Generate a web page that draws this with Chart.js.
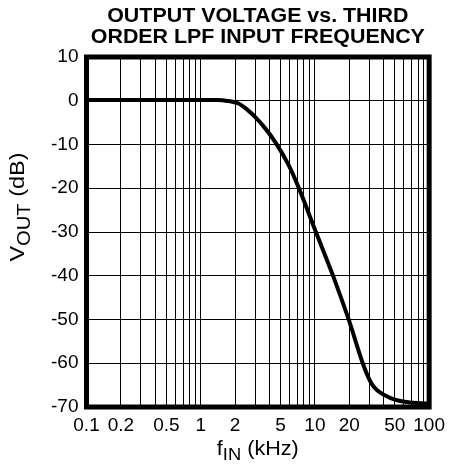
<!DOCTYPE html>
<html><head><meta charset="utf-8">
<script src="https://cdn.jsdelivr.net/npm/chart.js@4/dist/chart.umd.min.js"></script>
<style>html,body{margin:0;padding:0;background:#fff}</style>
</head><body>
<canvas id="c" width="452" height="466"></canvas>
<script>
// ---- data ----
const titleLines = ['OUTPUT VOLTAGE vs. THIRD', 'ORDER LPF INPUT FREQUENCY'];
const freqKHz = [0.1, 0.3, 0.6, 1.0, 1.4, 1.66, 2.16, 2.6, 3.02, 3.64, 4.51, 5.89, 7.19, 10.16, 14.5, 19.8, 26.9, 31.2, 35.5, 40.8, 50.0, 60.8, 80.0, 100.0];
const voutDb  = [0.2, 0.2, 0.2, 0.2, 0.15, 0.0, -0.7, -2.2, -3.8, -6.2, -9.5, -14.7, -19.8, -29.9, -40.2, -50.1, -60.8, -64.6, -66.3, -67.3, -68.3, -68.8, -69.1, -69.2];
const xTickLabelValues = [0.1, 0.2, 0.5, 1, 2, 5, 10, 20, 50, 100];
const xTickLabels = ['0.1', '0.2', '0.5', '1', '2', '5', '10', '20', '50', '100'];
const yTickValues = [10, 0, -10, -20, -30, -40, -50, -60, -70];
const xAxisTitle = ['f', 'IN', ' (kHz)'];
const yAxisTitle = ['V', 'OUT', ' (dB)'];

// gridline positions: 1..9 in every decade
const xGridValues = [];
[0.1, 1, 10].forEach(d => { for (let m = 1; m <= 9; m++) xGridValues.push(+(d * m).toPrecision(3)); });
xGridValues.push(100);

const FONT = '"Liberation Sans", Arial, Helvetica, sans-serif';
Chart.defaults.font.family = FONT;
Chart.defaults.color = '#000';

const decor = {
  id: 'decor',
  afterDraw(chart) {
    const {ctx, chartArea: a} = chart;
    ctx.save();
    ctx.strokeStyle = '#000';
    ctx.lineWidth = 5;
    ctx.strokeRect(a.left, a.top, a.right - a.left, a.bottom - a.top);
    ctx.fillStyle = '#000';
    const cx = (a.left + a.right) / 2;
    // title (slightly wide lettering, as in the reference)
    ctx.font = 'bold 20px ' + FONT;
    ctx.textAlign = 'center';
    ctx.textBaseline = 'alphabetic';
    [[titleLines[0], 22], [titleLines[1], 43]].forEach(([t, y]) => {
      ctx.save(); ctx.translate(cx, y); ctx.scale(1.07, 1); ctx.fillText(t, 0, 0); ctx.restore();
    });
    // text with subscript, centred on (x, y), stretched horizontally by k
    function drawSub(parts, x, y, bigPx, smallPx, k, drop) {
      const big = bigPx + 'px ' + FONT, small = smallPx + 'px ' + FONT;
      ctx.font = big; const w0 = ctx.measureText(parts[0]).width;
      ctx.font = small; const w1 = ctx.measureText(parts[1]).width;
      ctx.font = big; const w2 = ctx.measureText(parts[2]).width;
      ctx.save();
      ctx.translate(x, y); ctx.scale(k, 1);
      let sx = -(w0 + w1 + w2) / 2;
      ctx.textAlign = 'left';
      ctx.font = big; ctx.fillText(parts[0], sx, 0); sx += w0;
      ctx.font = small; ctx.fillText(parts[1], sx, drop); sx += w1;
      ctx.font = big; ctx.fillText(parts[2], sx, 0);
      ctx.restore();
    }
    drawSub(xAxisTitle, cx, 455, 20, 17, 1.08, 5);
    ctx.save();
    ctx.translate(24, 207);
    ctx.rotate(-Math.PI / 2);
    drawSub(yAxisTitle, 0, 0, 21, 18, 1.12, 6);
    ctx.restore();
    ctx.restore();
  }
};

new Chart(document.getElementById('c'), {
  type: 'line',
  data: {
    datasets: [{
      data: freqKHz.map((f, i) => ({x: f, y: voutDb[i]})),
      borderColor: '#000',
      borderWidth: 4,
      pointRadius: 0,
      cubicInterpolationMode: 'monotone',
      fill: false
    }]
  },
  options: {
    responsive: false,
    animation: false,
    devicePixelRatio: 1,
    layout: {padding: {top: 57, right: 20.5, bottom: 0, left: 0}},
    plugins: {legend: {display: false}, title: {display: false}, tooltip: {enabled: false}},
    scales: {
      x: {
        type: 'logarithmic',
        min: 0.1, max: 100,
        afterBuildTicks: s => { s.ticks = xGridValues.map(v => ({value: v})); },
        afterFit: s => { s.height = 59; },
        ticks: {
          autoSkip: false, maxRotation: 0, minRotation: 0, padding: 7,
          font: {size: 19}, color: '#000',
          callback: v => {
            const i = xTickLabelValues.findIndex(t => Math.abs(t - v) < 1e-9);
            return i >= 0 ? xTickLabels[i] : '';
          }
        },
        grid: {color: '#000', lineWidth: 1, drawTicks: false},
        border: {display: false}
      },
      y: {
        type: 'linear',
        min: -70, max: 10,
        afterBuildTicks: s => { s.ticks = yTickValues.map(v => ({value: v})); },
        afterFit: s => { s.width = 86.5; },
        ticks: {padding: 8, font: {size: 19}, color: '#000'},
        grid: {color: '#000', lineWidth: 1, drawTicks: false},
        border: {display: false}
      }
    }
  },
  plugins: [decor]
});
</script>
</body></html>
